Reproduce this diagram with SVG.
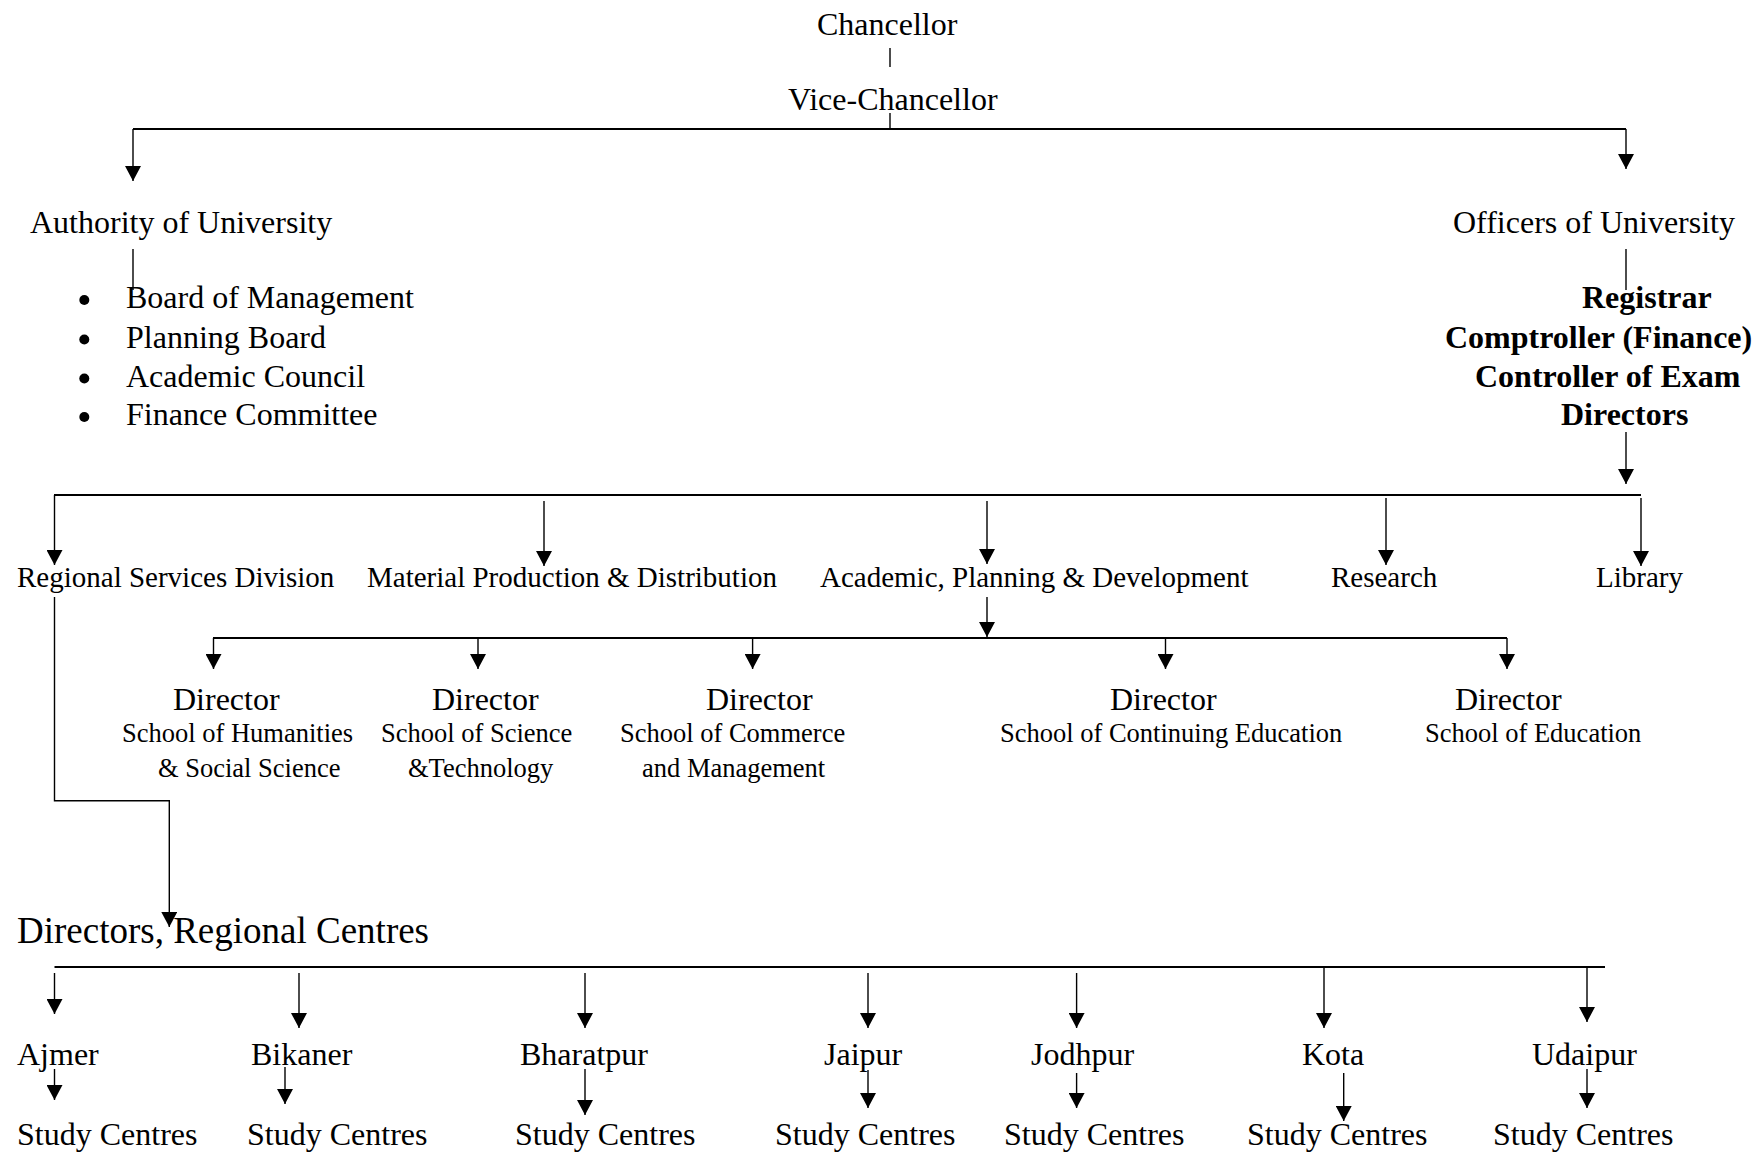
<svg xmlns="http://www.w3.org/2000/svg" width="1756" height="1153" viewBox="0 0 1756 1153">
<defs>
<marker id="ah" viewBox="0 0 15 16" refX="15" refY="8" markerWidth="15" markerHeight="16" markerUnits="userSpaceOnUse" orient="auto"><path d="M0,0 L15,8 L0,16 z" fill="#000"/></marker>
<style>
text{font-family:"Liberation Serif","Times New Roman",serif;fill:#000}
.t32{font-size:32px}
.t29{font-size:29px}
.t26{font-size:26.5px}
.t37{font-size:37px}
.b{font-size:32px;font-weight:bold}
.ln{stroke:#000;stroke-width:1.4;fill:none}
.bar{stroke:#000;stroke-width:2.2;fill:none}
.ar{stroke:#000;stroke-width:1.4;fill:none;marker-end:url(#ah)}
</style>
</defs>
<rect width="1756" height="1153" fill="#fff"/>

<g id="connectors">
<line class="ln" x1="890" y1="48" x2="890" y2="67"/>
<line class="ln" x1="890" y1="113" x2="890" y2="129"/>
<line class="bar" x1="133" y1="129" x2="1626" y2="129"/>
<line class="ar" x1="133" y1="129" x2="133" y2="181"/>
<line class="ar" x1="1626" y1="129" x2="1626" y2="169"/>
<line class="ln" x1="133" y1="249" x2="133" y2="290"/>
<line class="ln" x1="1626" y1="249" x2="1626" y2="290"/>
<line class="ar" x1="1626" y1="432" x2="1626" y2="484"/>
<line class="bar" x1="54" y1="495" x2="1641" y2="495"/>
<line class="ar" x1="54.5" y1="495" x2="54.5" y2="565"/>
<line class="ar" x1="544" y1="501" x2="544" y2="566"/>
<line class="ar" x1="987" y1="501" x2="987" y2="564"/>
<line class="ar" x1="1386" y1="498" x2="1386" y2="565"/>
<line class="ar" x1="1641" y1="498" x2="1641" y2="566"/>
<line class="ar" x1="987" y1="597" x2="987" y2="637"/>
<line class="bar" x1="213" y1="638" x2="1507" y2="638"/>
<line class="ar" x1="213.5" y1="638" x2="213.5" y2="669"/>
<line class="ar" x1="478" y1="638" x2="478" y2="669"/>
<line class="ar" x1="752.6" y1="638" x2="752.6" y2="669"/>
<line class="ar" x1="1165.5" y1="638" x2="1165.5" y2="669"/>
<line class="ar" x1="1507" y1="638" x2="1507" y2="669"/>
<polyline class="ar" points="54.5,597 54.5,800.7 169.3,800.7 169.3,927"/>
<line class="bar" x1="54.5" y1="967" x2="1605" y2="967"/>
<line class="ar" x1="54.5" y1="973" x2="54.5" y2="1014"/>
<line class="ar" x1="299" y1="973" x2="299" y2="1028"/>
<line class="ar" x1="585" y1="973" x2="585" y2="1028"/>
<line class="ar" x1="868" y1="973" x2="868" y2="1028"/>
<line class="ar" x1="1076.6" y1="973" x2="1076.6" y2="1028"/>
<line class="ar" x1="1324" y1="967" x2="1324" y2="1028"/>
<line class="ar" x1="1587" y1="967" x2="1587" y2="1022"/>
<line class="ar" x1="54.5" y1="1069" x2="54.5" y2="1100"/>
<line class="ar" x1="285" y1="1067" x2="285" y2="1104"/>
<line class="ar" x1="585" y1="1069" x2="585" y2="1115"/>
<line class="ar" x1="868" y1="1070" x2="868" y2="1108"/>
<line class="ar" x1="1076.6" y1="1073" x2="1076.6" y2="1108"/>
<line class="ar" x1="1343.7" y1="1073" x2="1343.7" y2="1121"/>
<line class="ar" x1="1587" y1="1069" x2="1587" y2="1108"/>
</g>

<g id="chancellor"><text class="t32" x="817" y="35">Chancellor</text></g>
<g id="vice-chancellor"><text class="t32" x="788" y="110">Vice-Chancellor</text></g>

<g id="authority">
<text class="t32" x="30" y="233">Authority of University</text>
<circle cx="84.3" cy="300" r="5"/>
<circle cx="84.3" cy="339.5" r="5"/>
<circle cx="84.3" cy="378.5" r="5"/>
<circle cx="84.3" cy="417" r="5"/>
<text class="t32" x="126" y="308">Board of Management</text>
<text class="t32" x="126" y="347.5">Planning Board</text>
<text class="t32" x="126" y="386.5">Academic Council</text>
<text class="t32" x="126" y="425">Finance Committee</text>
</g>

<g id="officers">
<text class="t32" x="1453" y="233">Officers of University</text>
<text class="b" x="1582" y="308">Registrar</text>
<text class="b" x="1445" y="348">Comptroller (Finance)</text>
<text class="b" x="1475" y="387">Controller of Exam</text>
<text class="b" x="1561" y="425">Directors</text>
</g>

<g id="regional-services"><text class="t29" x="17" y="587">Regional Services Division</text></g>
<g id="material-production"><text class="t29" x="367" y="587">Material Production &amp; Distribution</text></g>
<g id="academic-planning"><text class="t29" x="820" y="587">Academic, Planning &amp; Development</text></g>
<g id="research"><text class="t29" x="1331" y="587">Research</text></g>
<g id="library"><text class="t29" x="1596" y="587">Library</text></g>

<g id="dir-humanities">
<text class="t32" x="173" y="710">Director</text>
<text class="t26" x="122" y="742">School of Humanities</text>
<text class="t26" x="158" y="777">&amp; Social Science</text>
</g>
<g id="dir-science">
<text class="t32" x="432" y="710">Director</text>
<text class="t26" x="381" y="742">School of Science</text>
<text class="t26" x="408" y="777">&amp;Technology</text>
</g>
<g id="dir-commerce">
<text class="t32" x="706" y="710">Director</text>
<text class="t26" x="620" y="742">School of Commerce</text>
<text class="t26" x="642" y="777">and Management</text>
</g>
<g id="dir-continuing">
<text class="t32" x="1110" y="710">Director</text>
<text class="t26" x="1000" y="742">School of Continuing Education</text>
</g>
<g id="dir-education">
<text class="t32" x="1455" y="710">Director</text>
<text class="t26" x="1425" y="742">School of Education</text>
</g>

<g id="regional-centres"><text class="t37" x="17" y="943">Directors, Regional Centres</text></g>

<g id="ajmer"><text class="t32" x="17" y="1065">Ajmer</text></g>
<g id="bikaner"><text class="t32" x="251" y="1065">Bikaner</text></g>
<g id="bharatpur"><text class="t32" x="520" y="1065">Bharatpur</text></g>
<g id="jaipur"><text class="t32" x="824" y="1065">Jaipur</text></g>
<g id="jodhpur"><text class="t32" x="1031" y="1065">Jodhpur</text></g>
<g id="kota"><text class="t32" x="1302" y="1065">Kota</text></g>
<g id="udaipur"><text class="t32" x="1532" y="1065">Udaipur</text></g>

<g id="sc-ajmer"><text class="t32" x="17" y="1145">Study Centres</text></g>
<g id="sc-bikaner"><text class="t32" x="247" y="1145">Study Centres</text></g>
<g id="sc-bharatpur"><text class="t32" x="515" y="1145">Study Centres</text></g>
<g id="sc-jaipur"><text class="t32" x="775" y="1145">Study Centres</text></g>
<g id="sc-jodhpur"><text class="t32" x="1004" y="1145">Study Centres</text></g>
<g id="sc-kota"><text class="t32" x="1247" y="1145">Study Centres</text></g>
<g id="sc-udaipur"><text class="t32" x="1493" y="1145">Study Centres</text></g>
</svg>
